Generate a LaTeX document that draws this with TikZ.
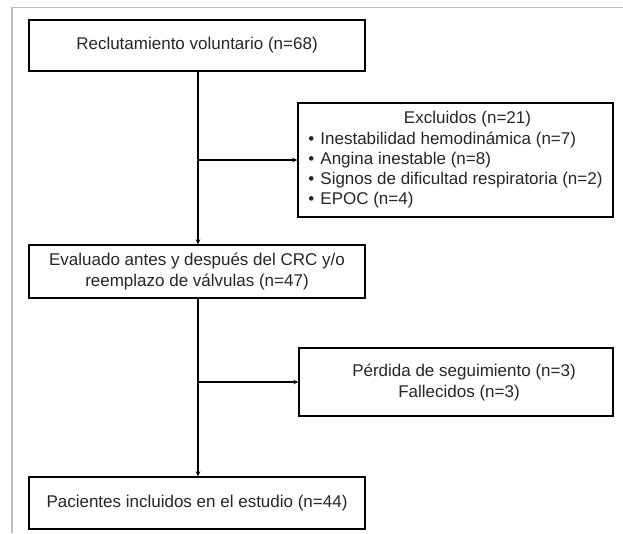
\documentclass[tikz,border=0pt]{standalone}
\usepackage{fontspec}
\setmainfont{Liberation Sans}
\usetikzlibrary{arrows.meta,positioning}

\tikzset{
  caja/.style={draw, line width=1.4pt, text=black!85, inner sep=0pt, align=center,
    font=\fontsize{17}{21}\selectfont},
  flecha/.style={line width=1.4pt, -{Stealth[length=5pt,width=4.5pt]}},
}

\begin{document}
\begin{tikzpicture}[x=1pt,y=-1pt]
        \useasboundingbox (0,0) rectangle (623,533);
        % marco gris
        \draw[black!25, line width=1.5pt] (12,533) -- (12,7.5) -- (623,7.5);

        % columna principal
        \node[caja, minimum width=336pt, minimum height=51pt] (recl) at (197,45.5) {Reclutamiento voluntario (n=68)};
        \node[caja, minimum width=336pt, minimum height=53pt] (eval) at (197,271.5) {Evaluado antes y después del CRC y/o\\reemplazo de válvulas (n=47)};
        \node[caja, minimum width=336pt, minimum height=52pt] (incl) at (197,503) {Pacientes incluidos en el estudio (n=44)};

        % cajas laterales
        \node[caja, minimum width=315pt, minimum height=114pt] (excl) at (455.5,160) {%
          \raisebox{-4pt}{\begin{tabular}{@{}l@{}}
            \multicolumn{1}{c}{\hspace*{24pt}Excluidos (n=21)}\\[-0.8pt]
            •\hspace{6pt}Inestabilidad hemodinámica (n=7)\\[-0.8pt]
            •\hspace{6pt}Angina inestable (n=8)\\[-0.8pt]
            •\hspace{6pt}Signos de dificultad respiratoria (n=2)\\[-0.8pt]
            •\hspace{6pt}EPOC (n=4)
          \end{tabular}}};
        \node[caja, minimum width=314pt, minimum height=68pt] (perd) at (456,382) {\hspace*{16pt}Pérdida de seguimiento (n=3)\\\hspace*{6pt}Fallecidos (n=3)};

        % conectores
        \coordinate (eje) at (198,0);
        \draw[flecha] (recl.south -| eje) -- (eval.north -| eje);
        \draw[flecha] (eval.south -| eje) -- (incl.north -| eje);
        \draw[flecha] (excl.west -| eje) -- (excl.west);
        \draw[flecha] (perd.west -| eje) -- (perd.west);
\end{tikzpicture}
\end{document}
